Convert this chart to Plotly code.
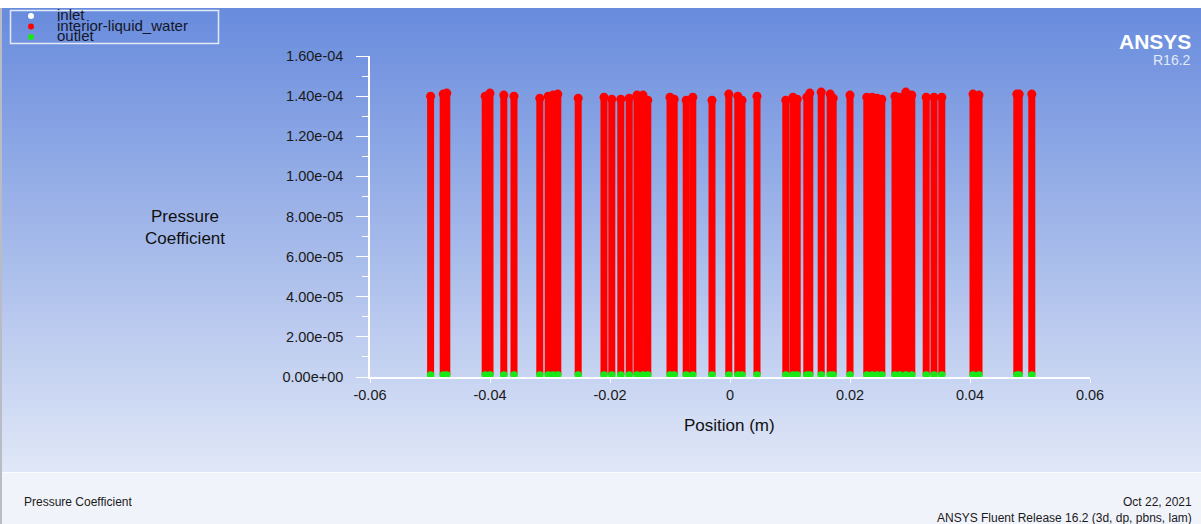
import plotly.graph_objects as go

W, H = 1201, 524

# ---- data ----
position_m = [-0.0499, -0.0478, -0.0472, -0.0408, -0.0400, -0.0377, -0.0360, -0.0317, -0.0303, -0.0295,
              -0.0287, -0.0253, -0.0210, -0.0197, -0.0182, -0.0168, -0.0155, -0.0145, -0.0137, -0.0100,
              -0.0093, -0.0073, -0.0062, -0.0030, -0.0002, 0.0013, 0.0020, 0.0045, 0.0093, 0.0105,
              0.0112, 0.0128, 0.0133, 0.0152, 0.0167, 0.0172, 0.0200, 0.0228, 0.0237, 0.0245,
              0.0253, 0.0275, 0.0283, 0.0293, 0.0303, 0.0327, 0.0340, 0.0353, 0.0405, 0.0415,
              0.0478, 0.0482, 0.0503]
interior_top_cp = [1.400e-4, 1.410e-4, 1.415e-4, 1.400e-4, 1.415e-4, 1.405e-4, 1.400e-4, 1.390e-4, 1.400e-4, 1.405e-4,
                   1.410e-4, 1.390e-4, 1.395e-4, 1.385e-4, 1.385e-4, 1.390e-4, 1.405e-4, 1.405e-4, 1.380e-4, 1.395e-4,
                   1.385e-4, 1.380e-4, 1.395e-4, 1.380e-4, 1.410e-4, 1.400e-4, 1.380e-4, 1.400e-4, 1.380e-4, 1.395e-4,
                   1.385e-4, 1.395e-4, 1.415e-4, 1.420e-4, 1.410e-4, 1.390e-4, 1.405e-4, 1.395e-4, 1.395e-4, 1.390e-4,
                   1.385e-4, 1.400e-4, 1.395e-4, 1.420e-4, 1.405e-4, 1.395e-4, 1.395e-4, 1.395e-4, 1.410e-4, 1.405e-4,
                   1.410e-4, 1.410e-4, 1.410e-4]
outlet_cp = [1.0e-6, 1.0e-6, 1.0e-6, 1.0e-6, 1.0e-6, 1.0e-6, 1.0e-6, 1.0e-6, 1.0e-6, 1.0e-6,
             1.0e-6, 1.0e-6, 1.0e-6, 1.0e-6, 1.0e-6, 1.0e-6, 1.0e-6, 1.0e-6, 1.0e-6, 1.0e-6,
             1.0e-6, 1.0e-6, 1.0e-6, 1.0e-6, 1.0e-6, 1.0e-6, 1.0e-6, 1.0e-6, 1.0e-6, 1.0e-6,
             1.0e-6, 1.0e-6, 1.0e-6, 1.0e-6, 1.0e-6, 1.0e-6, 1.0e-6, 1.0e-6, 1.0e-6, 1.0e-6,
             1.0e-6, 1.0e-6, 1.0e-6, 1.0e-6, 1.0e-6, 1.0e-6, 1.0e-6, 1.0e-6, 1.0e-6, 1.0e-6,
             1.0e-6, 1.0e-6, 1.0e-6]

x_tickvals = [-0.06, -0.04, -0.02, 0, 0.02, 0.04, 0.06]
x_ticktext = ["-0.06", "-0.04", "-0.02", "0", "0.02", "0.04", "0.06"]
y_tickvals = [0, 2e-5, 4e-5, 6e-5, 8e-5, 1e-4, 1.2e-4, 1.4e-4, 1.6e-4]
y_ticktext = ["0.00e+00", "2.00e-05", "4.00e-05", "6.00e-05", "8.00e-05",
              "1.00e-04", "1.20e-04", "1.40e-04", "1.60e-04"]

legend_names = ["inlet", "interior-liquid_water", "outlet"]
legend_colors = ["#ffffff", "#ff0000", "#18e818"]

# ---- helpers ----
def px(x):
    return x / W

def py(y):
    return 1 - y / H

FONT = "Liberation Sans, Arial, sans-serif"
RED = "#ff0000"
GREEN = "#18e818"

fig = go.Figure()

# interior columns: vertical strokes built from the data arrays
col_x, col_y = [], []
for xv, lo, hi in zip(position_m, outlet_cp, interior_top_cp):
    col_x += [xv, xv, None]
    col_y += [lo, hi, None]
fig.add_trace(go.Scatter(x=col_x, y=col_y, mode="lines",
                         line=dict(color=RED, width=7), hoverinfo="skip", showlegend=False))
fig.add_trace(go.Scatter(x=position_m, y=interior_top_cp, mode="markers",
                         marker=dict(color=RED, size=9, line=dict(width=0)),
                         name="interior-liquid_water", showlegend=False))
fig.add_trace(go.Scatter(x=position_m, y=outlet_cp, mode="markers",
                         marker=dict(color=GREEN, size=7.5, line=dict(width=0)),
                         name="outlet", showlegend=False, cliponaxis=False))

# ---- background gradient (styling) ----
shapes = []
top_c = (104, 139, 221)
bot_c = (224, 231, 247)
y0, y1 = 8, 472
n = 58
for i in range(n):
    ya = y0 + (y1 - y0) * i / n
    yb = y0 + (y1 - y0) * (i + 1) / n + 0.6
    t = (i + 0.5) / n
    c = tuple(int(round(top_c[k] + (bot_c[k] - top_c[k]) * t)) for k in range(3))
    shapes.append(dict(type="rect", xref="paper", yref="paper", x0=0, x1=1,
                       y0=py(min(yb, y1)), y1=py(ya), fillcolor="rgb(%d,%d,%d)" % c,
                       line=dict(width=0), layer="below"))
# footer
shapes.append(dict(type="rect", xref="paper", yref="paper", x0=0, x1=1, y0=0, y1=py(472),
                   fillcolor="#f1f3fa", line=dict(width=0), layer="below"))
shapes.append(dict(type="line", xref="paper", yref="paper", x0=0, x1=1, y0=py(472.5), y1=py(472.5),
                   line=dict(color="#fbfcfe", width=1), layer="below"))
# left border
shapes.append(dict(type="line", xref="paper", yref="paper", x0=px(1), x1=px(1), y0=0, y1=py(8),
                   line=dict(color="#b9bcc4", width=2), layer="below"))
# legend box
shapes.append(dict(type="rect", xref="paper", yref="paper", x0=px(10.5), x1=px(218.5),
                   y0=py(43.5), y1=py(10.5), line=dict(color="#e4e9f6", width=1.5),
                   fillcolor="rgba(0,0,0,0)", layer="above"))

annotations = []
# legend entries
leg_y = [16, 26.5, 37]
for name, color, yy in zip(legend_names, legend_colors, leg_y):
    shapes.append(dict(type="circle", xref="paper", yref="paper",
                       x0=px(28), x1=px(34), y0=py(yy + 3), y1=py(yy - 3),
                       fillcolor=color, line=dict(width=0), layer="above"))
    annotations.append(dict(text=name, xref="paper", yref="paper", x=px(55), y=py(yy - 1.5),
                            xanchor="left", yanchor="middle", showarrow=False,
                            font=dict(family=FONT, size=15, color="#141828")))

# axis titles
annotations.append(dict(text="Pressure<br>Coefficient", xref="paper", yref="paper",
                        x=px(185), y=py(227), xanchor="center", yanchor="middle", showarrow=False,
                        align="center", font=dict(family=FONT, size=17, color="#101010")))
annotations.append(dict(text="Position (m)", xref="paper", yref="paper",
                        x=px(729), y=py(425), xanchor="center", yanchor="middle", showarrow=False,
                        font=dict(family=FONT, size=17, color="#101010")))
# ANSYS logo
annotations.append(dict(text="<b>ANSYS</b>", xref="paper", yref="paper", x=px(1193), y=py(42),
                        xanchor="right", yanchor="middle", showarrow=False,
                        font=dict(family=FONT, size=21, color="#ffffff")))
annotations.append(dict(text="R16.2", xref="paper", yref="paper", x=px(1193), y=py(60),
                        xanchor="right", yanchor="middle", showarrow=False,
                        font=dict(family=FONT, size=14, color="#e2e9f8")))
# footer texts
annotations.append(dict(text="Pressure Coefficient", xref="paper", yref="paper", x=px(22), y=py(502),
                        xanchor="left", yanchor="middle", showarrow=False,
                        font=dict(family=FONT, size=12, color="#1a1a1a")))
annotations.append(dict(text="Oct 22, 2021", xref="paper", yref="paper", x=px(1194), y=py(502),
                        xanchor="right", yanchor="middle", showarrow=False,
                        font=dict(family=FONT, size=12, color="#1a1a1a")))
annotations.append(dict(text="ANSYS Fluent Release 16.2 (3d, dp, pbns, lam)", xref="paper", yref="paper",
                        x=px(1194), y=py(518), xanchor="right", yanchor="middle", showarrow=False,
                        font=dict(family=FONT, size=12, color="#1a1a1a")))

fig.update_layout(
    width=W, height=H,
    margin=dict(l=0, r=0, t=0, b=0),
    paper_bgcolor="#ffffff",
    plot_bgcolor="rgba(0,0,0,0)",
    showlegend=False,
    shapes=shapes,
    annotations=annotations,
    xaxis=dict(domain=[px(370), px(1090)], range=[-0.06, 0.06], automargin=False,
               showgrid=False, zeroline=False, showline=True, linecolor="#ffffff", linewidth=1.5,
               ticks="outside", ticklen=4, tickcolor="#ffffff", tickwidth=1,
               tickvals=x_tickvals, ticktext=x_ticktext,
               tickfont=dict(family=FONT, size=14.5, color="#1a1a1a")),
    yaxis=dict(domain=[py(377), py(56)], range=[0, 1.6e-4], automargin=False,
               showgrid=False, zeroline=False, showline=True, linecolor="#ffffff", linewidth=1.5,
               ticks="outside", ticklen=12, tickcolor="#ffffff", tickwidth=1,
               ticklabelstandoff=10,
               tickvals=y_tickvals, ticktext=y_ticktext,
               minor=dict(ticks="outside", ticklen=6, tickcolor="#ffffff", dtick=1e-5, tick0=0),
               tickfont=dict(family=FONT, size=14.5, color="#1a1a1a")),
)

fig.write_html("out.html", config={"displayModeBar": False},
               post_script="document.body.style.margin='0';document.body.style.overflow='hidden';")
